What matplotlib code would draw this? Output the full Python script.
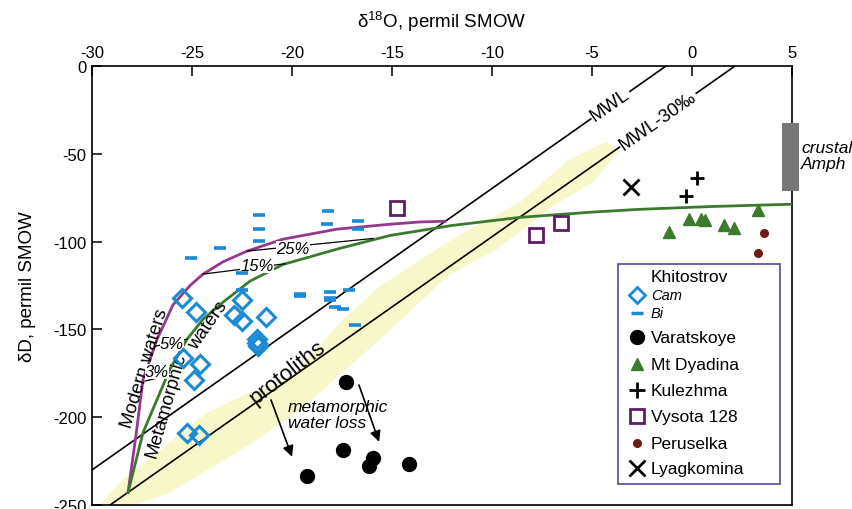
import numpy as np
import matplotlib
matplotlib.use('Agg')  # no display
import matplotlib.pyplot as plt
from matplotlib.patches import Polygon, Rectangle

plt.rcParams['font.family'] = ['Liberation Sans', 'DejaVu Sans']
plt.rcParams['mathtext.fontset'] = 'custom'
plt.rcParams['mathtext.rm'] = 'Liberation Sans'
plt.rcParams['mathtext.it'] = 'Liberation Sans:italic'

# ---- data (d18O, dD; permil SMOW) ----
xticks = [-30, -25, -20, -15, -10, -5, 0, 5]
yticks = [0, -50, -100, -150, -200, -250]

# Khitostrov amphibole (Cam) and biotite (Bi)
cam_x = [-25.5, -24.8, -22.5, -22.9, -22.5, -21.3, -21.75, -21.75, -21.7,
         -25.45, -24.6, -24.9, -25.25, -24.65]
cam_y = [-132.3, -140.1, -133.2, -142.0, -145.2, -142.9, -155.6, -157.9, -159.5,
         -166.5, -169.9, -179.0, -208.9, -210.4]
bi_x = [-25.05, -23.6, -21.65, -21.65, -21.65, -18.2, -18.25, -16.7, -16.7,
        -22.5, -22.5, -19.6, -19.6, -18.1, -18.1, -18.1, -17.15, -17.85, -17.45, -16.85]
bi_y = [-109.6, -103.9, -84.8, -92.9, -99.9, -82.5, -89.7, -88.2, -92.9,
        -117.6, -127.7, -129.6, -131.1, -128.7, -131.9, -133.2, -127.7, -137.0, -138.1, -147.5]

varats_x = [-17.3, -17.45, -15.95, -16.15, -14.15, -19.25]
varats_y = [-180.2, -218.4, -223.5, -228.0, -226.9, -233.2]

dyadina_x = [-1.15, -0.15, 0.45, 0.65, 1.6, 2.1, 3.3]
dyadina_y = [-94.8, -87.2, -87.2, -87.8, -90.4, -92.4, -81.9]

kulezhma_x = [0.25, -0.3]
kulezhma_y = [-63.9, -73.9]

vysota_x = [-14.75, -7.8, -6.55]
vysota_y = [-81.0, -96.3, -89.5]

perus_x = [3.6, 3.3]
perus_y = [-95.2, -106.2]

lyag_x = [-3.05]
lyag_y = [-68.8]

# meteoric water lines (end points)
mwl_x = [-30.0, -1.3]
mwl_y = [-230.0, 0.0]
mwl30_x = [-29.1, 2.15]
mwl30_y = [-250.0, 0.0]

# exchange curves
modern_x = [-28.2, -27.8, -27.45, -26.75, -25.95, -25.1, -24.45, -23.45, -22.25,
            -20.45, -17.75, -15.1, -13.6, -12.35]
modern_y = [-242.9, -210.0, -178.5, -155.6, -136.0, -125.0, -118.5, -111.5, -105.4,
            -98.6, -92.9, -90.1, -88.8, -88.4]
meta_x = [-28.2, -27.45, -26.75, -26.1, -25.25, -24.45, -23.45, -22.1, -20.45,
          -17.6, -15.1, -12.0, -8.6, -5.0, -2.6, 1.0, 5.0]
meta_y = [-242.9, -208.7, -189.9, -172.5, -155.6, -144.2, -134.5, -122.5, -113.0,
          -103.8, -96.5, -90.8, -86.2, -83.2, -81.6, -80.0, -78.7]

# tie lines between curves: (x0, y0, x1, y1, label, label x, label y)
ties = [(-22.25, -105.4, -15.95, -98.2, '25%', -19.95, -104.0),
        (-24.45, -118.5, -20.35, -112.6, '15%', -21.75, -113.5),
        (-26.85, -159.6, -25.25, -155.6, '5%', -26.0, -158.0),
        (-27.35, -179.4, -26.35, -176.6, '3%', -26.75, -174.0)]

# protolith band outline
band_x = [-29.6, -28.45, -27.6, -24.25, -22.1, -20.1, -17.6, -15.6, -11.75, -8.6,
          -6.1, -4.25, -3.7, -4.95, -6.95, -9.75, -12.25, -13.45, -15.6, -19.75,
          -22.25, -26.1, -28.5]
band_y = [-249.7, -235.5, -228.0, -197.3, -185.9, -178.5, -146.0, -125.4, -96.9, -77.5,
          -53.0, -42.8, -49.0, -66.1, -79.8, -104.3, -119.7, -132.8, -155.6, -197.3,
          -216.6, -242.9, -252.6]

# crustal amphibole range
amph_x = [4.5, 5.35]
amph_y = [-71.0, -32.5]

blue = '#1a8ad6'
purple_line = '#933a8c'
green_line = '#3b7a2e'
sq_col = '#5e1c62'
tri_col = '#3c7a2c'
dot_col = '#6b1d16'

fig = plt.figure(figsize=(8.53, 5.10), dpi=100)
ax = fig.add_axes([0.1079, 0.0078, 0.8206, 0.8608])
ax.set_xlim(-30, 5)
ax.set_ylim(-250, 0)

ax.add_patch(Polygon(np.column_stack([band_x, band_y]), closed=True,
                     facecolor='#f7f7c9', edgecolor='none', zorder=1))

ax.plot(mwl_x, mwl_y, color='black', lw=1.2, zorder=2)
ax.plot(mwl30_x, mwl30_y, color='black', lw=1.2, zorder=2)
lbl = dict(rotation=35, rotation_mode='anchor', ha='center', va='center', fontsize=13.5,
           bbox=dict(facecolor='white', edgecolor='none', pad=1), zorder=3)
ax.text(-4.1, -22.0, 'MWL', **lbl)
ax.text(-1.7, -31.0, 'MWL-30‰', **lbl)

ax.plot(modern_x, modern_y, color=purple_line, lw=2, zorder=3)
ax.plot(meta_x, meta_y, color=green_line, lw=2, zorder=3)
for x0, y0, x1, y1, s, tx, ty in ties:
    ax.plot([x0, x1], [y0, y1], color='black', lw=0.9, zorder=3)
    ax.text(tx, ty, s, fontsize=12, style='italic', ha='center', va='center', zorder=4,
            bbox=dict(facecolor='white', edgecolor='none', pad=0.2))

ax.text(-27.35, -171.5, 'Modern waters', rotation=73, ha='center', va='center', fontsize=13.5)
ax.text(-26.3, -193.0, 'Metamorphic', rotation=74, ha='center', va='center', fontsize=13.5)
ax.text(-24.2, -147.5, 'waters', rotation=55, ha='center', va='center', fontsize=13.5)
ax.text(-20.2, -174.0, 'protoliths', rotation=38, ha='center', va='center', fontsize=16)
ax.text(-20.2, -198.5, 'metamorphic\nwater loss', style='italic', ha='left', va='center',
        fontsize=12.5, linespacing=1.1)
ax.annotate('', xy=(-19.95, -224.0), xytext=(-21.1, -188.7),
            arrowprops=dict(arrowstyle='-|>', color='black', lw=1.2, mutation_scale=16))
ax.annotate('', xy=(-15.6, -215.5), xytext=(-16.7, -180.2),
            arrowprops=dict(arrowstyle='-|>', color='black', lw=1.2, mutation_scale=16))

# samples
ax.plot(cam_x, cam_y, 'D', ms=9, mfc='none', mec=blue, mew=2.2, zorder=5)
ax.plot(bi_x, bi_y, '_', ms=9, mec=blue, mew=2.6, zorder=5)
ax.plot(varats_x, varats_y, 'o', ms=10, color='black', zorder=5)
ax.plot(dyadina_x, dyadina_y, '^', ms=8, color=tri_col, zorder=5)
ax.plot(kulezhma_x, kulezhma_y, '+', ms=10, mew=2, color='black', zorder=5)
ax.plot(vysota_x, vysota_y, 's', ms=10.5, mfc='none', mec=sq_col, mew=2, zorder=5)
ax.plot(perus_x, perus_y, 'o', ms=5.5, color=dot_col, zorder=5)
ax.plot(lyag_x, lyag_y, 'x', ms=11, mew=2, color='black', zorder=5)

ax.add_patch(Rectangle((amph_x[0], amph_y[0]), amph_x[1] - amph_x[0], amph_y[1] - amph_y[0],
                       facecolor='#777777', edgecolor='none', clip_on=False, zorder=6))
ax.text(5.45, -51.0, 'crustal\nAmph', style='italic', fontsize=12.5, ha='left', va='center',
        linespacing=1.15, clip_on=False)

# axes
ax.xaxis.tick_top()
ax.xaxis.set_label_position('top')
ax.set_xticks(xticks)
ax.set_yticks(yticks)
ax.set_xticklabels([str(t) for t in xticks])
ax.set_yticklabels([str(t) for t in yticks])
ax.tick_params(direction='in', length=7, width=1.1, labelsize=12, pad=4)
ax.set_xlabel('δ$^{18}$O, permil SMOW', fontsize=13.5, labelpad=13)
ax.set_ylabel('δD, permil SMOW', fontsize=13.5, labelpad=12)
for sp in ax.spines.values():
    sp.set_linewidth(1.2)

# legend box (drawn by hand to keep the original's uneven rows)
ax.add_patch(Rectangle((0.7514, 0.0478), 0.2315, 0.5012, transform=ax.transAxes,
                       facecolor='white', edgecolor='#55479a', lw=1.2, zorder=7))
leg_rows = [
    (0.5209, None, 'Khitostrov', {}),
    (0.4777, dict(marker='D', ms=8, mfc='none', mec=blue, mew=2), 'Cam', dict(style='italic', fontsize=10.5)),
    (0.4367, dict(marker='_', ms=8, mec=blue, mew=2.5), 'Bi', dict(style='italic', fontsize=10.5)),
    (0.3820, dict(marker='o', ms=10, color='black'), 'Varatskoye', {}),
    (0.3205, dict(marker='^', ms=8, color=tri_col), 'Mt Dyadina', {}),
    (0.2612, dict(marker='+', ms=11, mew=2, color='black'), 'Kulezhma', {}),
    (0.2020, dict(marker='s', ms=10, mfc='none', mec=sq_col, mew=2), 'Vysota 128', {}),
    (0.1405, dict(marker='o', ms=5.5, color=dot_col), 'Peruselka', {}),
    (0.0835, dict(marker='x', ms=11, mew=2, color='black'), 'Lyagkomina', {}),
]
for ry, mk, label, tkw in leg_rows:
    if mk is not None:
        ax.plot([0.7786], [ry], linestyle='none', transform=ax.transAxes,
                clip_on=False, zorder=8, **mk)
    kw = dict(fontsize=12.5)
    kw.update(tkw)
    ax.text(0.7986, ry, label, transform=ax.transAxes, ha='left', va='center', zorder=8, **kw)

fig.savefig('out.png', dpi=100)
